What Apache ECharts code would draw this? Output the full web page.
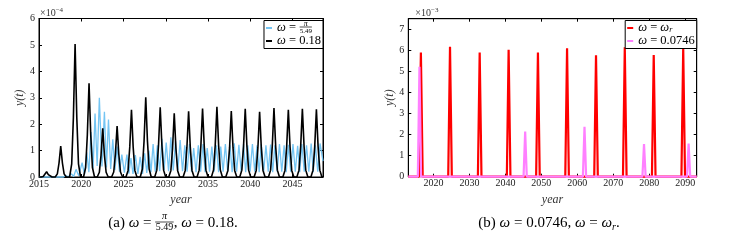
<!DOCTYPE html>
<html><head><meta charset="utf-8">
<script src="https://cdn.jsdelivr.net/npm/echarts@6/dist/echarts.min.js"></script>
<style>html,body{margin:0;padding:0;background:#fff}#c{width:731px;height:247px}</style>
</head><body><div id="c"></div>
<script>
// ---------- data ----------
const xTicksA = [2015, 2020, 2025, 2030, 2035, 2040, 2045];
const yTicksA = [0, 1, 2, 3, 4, 5, 6];
const xTicksB = [2020, 2030, 2040, 2050, 2060, 2070, 2080, 2090];
const yTicksB = [0, 1, 2, 3, 4, 5, 6, 7];

const namesA = ['ω = π/5.49', 'ω = 0.18'];
const namesB = ['ω = ω_r', 'ω = 0.0746'];

const blueA = [
[2015,0],[2017.9,0],[2018.2,0.05],[2018.45,0.01],[2018.85,0.12],[2019.1,0.02],[2019.38,0.29],[2019.7,0.05],
[2020.1,0.54],[2020.38,0.1],[2020.65,0.93],[2020.9,0.18],[2021.15,1.7],[2021.4,0.32],[2021.63,2.4],[2021.88,0.42],
[2022.14,3.0],[2022.45,0.4],[2022.74,2.47],[2022.98,0.36],[2023.22,2.18],[2023.48,0.3],[2023.73,1.43],[2023.98,0.26],
[2024.25,1.15],[2024.52,0.2],[2024.8,0.85],[2025.1,0.16],[2025.4,0.85],[2025.63,0.13],[2025.88,0.72],[2026.12,0.12],
[2026.4,0.83],[2026.7,0.12],[2026.97,0.76],[2027.25,0.12],[2027.5,0.9],[2027.75,0.15],[2028.0,1.0],[2028.25,0.18],
[2028.5,1.25],[2028.75,0.2],[2029.0,1.2],[2029.28,0.22],[2029.55,1.45],[2029.8,0.25],[2030.05,1.3],[2030.33,0.22],
[2030.6,1.5],[2030.88,0.25],[2031.15,1.35],[2031.42,0.22],[2031.7,1.4],[2031.98,0.22],[2032.25,1.2],[2032.52,0.2],
[2032.8,1.25],[2033.05,0.2],[2033.3,1.1],[2033.58,0.18],[2033.85,1.2],[2034.12,0.2],[2034.4,1.25],[2034.65,0.18],
[2034.9,1.1],[2035.18,0.2],[2035.45,1.15],[2035.72,0.2],[2036.0,1.2],[2036.25,0.18],[2036.5,1.15],[2036.78,0.2],
[2037.05,1.25],[2037.32,0.2],[2037.6,1.2],[2037.85,0.18],[2038.1,1.28],[2038.38,0.2],[2038.65,1.22],[2038.92,0.2],
[2039.2,1.25],[2039.45,0.18],[2039.7,1.2],[2039.98,0.2],[2040.25,1.25],[2040.52,0.2],[2040.8,1.2],[2041.05,0.18],
[2041.3,1.25],[2041.58,0.2],[2041.85,1.2],[2042.12,0.2],[2042.4,1.23],[2042.65,0.18],[2042.9,1.2],[2043.18,0.2],
[2043.45,1.25],[2043.72,0.2],[2044.0,1.2],[2044.25,0.18],[2044.5,1.22],[2044.78,0.2],[2045.05,1.25],[2045.32,0.2],
[2045.6,1.18],[2045.85,0.18],[2046.1,1.25],[2046.38,0.2],[2046.65,1.2],[2046.92,0.2],[2047.2,1.27],[2047.45,0.18],
[2047.7,1.2],[2047.98,0.2],[2048.25,1.27],[2048.6,0.6]
];

const blackA = [
[2015,0],
[2015.25,0],[2015.5,0.02],[2015.7,0.09],[2015.9,0.2],[2016.1,0.09],[2016.3,0.02],[2016.55,0],
[2016.92,0],[2017.17,0.12],[2017.37,0.53],[2017.57,1.17],[2017.77,0.53],[2017.97,0.12],[2018.22,0],
[2018.62,0],[2018.87,0.5],[2019.07,2.26],[2019.27,5.03],[2019.47,2.26],[2019.67,0.5],[2019.92,0],
[2020.27,0],[2020.52,0.36],[2020.72,1.6],[2020.92,3.55],[2021.12,1.6],[2021.32,0.36],[2021.57,0],
[2021.89,0],[2022.14,0.18],[2022.34,0.83],[2022.54,1.84],[2022.74,0.83],[2022.94,0.18],[2023.19,0],
[2023.59,0],[2023.84,0.19],[2024.04,0.87],[2024.24,1.93],[2024.44,0.87],[2024.64,0.19],[2024.89,0],
[2025.29,0],[2025.54,0.25],[2025.74,1.14],[2025.94,2.54],[2026.14,1.14],[2026.34,0.25],[2026.59,0],
[2026.98,0],[2027.23,0.3],[2027.43,1.36],[2027.63,3.02],[2027.83,1.36],[2028.03,0.3],[2028.28,0],
[2028.69,0],[2028.94,0.26],[2029.14,1.19],[2029.34,2.64],[2029.54,1.19],[2029.74,0.26],[2029.99,0],
[2030.35,0],[2030.6,0.24],[2030.8,1.08],[2031.0,2.41],[2031.2,1.08],[2031.4,0.24],[2031.65,0],
[2032.05,0],[2032.3,0.25],[2032.5,1.12],[2032.7,2.49],[2032.9,1.12],[2033.1,0.25],[2033.35,0],
[2033.7,0],[2033.95,0.26],[2034.15,1.17],[2034.35,2.59],[2034.55,1.17],[2034.75,0.26],[2035.0,0],
[2035.4,0],[2035.65,0.27],[2035.85,1.2],[2036.05,2.66],[2036.25,1.2],[2036.45,0.27],[2036.7,0],
[2037.1,0],[2037.35,0.25],[2037.55,1.12],[2037.75,2.5],[2037.95,1.12],[2038.15,0.25],[2038.4,0],
[2038.75,0],[2039.0,0.26],[2039.2,1.16],[2039.4,2.58],[2039.6,1.16],[2039.8,0.26],[2040.05,0],
[2040.45,0],[2040.7,0.25],[2040.9,1.11],[2041.1,2.47],[2041.3,1.11],[2041.5,0.25],[2041.75,0],
[2042.15,0],[2042.4,0.26],[2042.6,1.17],[2042.8,2.61],[2043.0,1.17],[2043.2,0.26],[2043.45,0],
[2043.85,0],[2044.1,0.25],[2044.3,1.14],[2044.5,2.54],[2044.7,1.14],[2044.9,0.25],[2045.15,0],
[2045.51,0],[2045.76,0.26],[2045.96,1.16],[2046.16,2.58],[2046.36,1.16],[2046.56,0.26],[2046.81,0],
[2047.17,0],[2047.42,0.26],[2047.62,1.15],[2047.82,2.56],[2048.02,1.15],[2048.22,0.26],[2048.47,0],
[2048.6,0]
];

const redB = [
[2013,0],[2016.0,0],[2016.5,5.9],[2017.0,0],[2024.1,0],[2024.6,6.17],[2025.1,0],
[2032.35,0],[2032.85,5.9],[2033.35,0],[2040.4,0],[2040.9,6.02],[2041.4,0],
[2048.55,0],[2049.05,5.9],[2049.55,0],[2056.65,0],[2057.15,6.1],[2057.65,0],
[2064.7,0],[2065.2,5.76],[2065.7,0],[2072.7,0],[2073.2,6.14],[2073.7,0],
[2080.75,0],[2081.25,5.78],[2081.75,0],[2088.95,0],[2089.45,6.1],[2089.95,0],[2093.2,0]
];

const pinkB = [
[2013,0],[2015.65,0],[2016.1,5.22],[2016.55,0],[2045.05,0],[2045.5,2.14],[2045.95,0],
[2057.7,0],[2058.0,0.06],[2058.3,0],[2061.55,0],[2062.0,2.37],[2062.45,0],
[2078.1,0],[2078.55,1.55],[2079.0,0],[2086.9,0],[2087.2,0.05],[2087.5,0],
[2090.5,0],[2090.95,1.57],[2091.4,0],[2093.2,0]
];

// ---------- layout ----------
const SERIF = '"Liberation Serif", "DejaVu Serif", serif';
const A = {left: 39, top: 18.5, right: 323, bottom: 177, xmin: 2015, xmax: 2048.6, ymax: 6};
const B = {left: 408.3, top: 18.7, right: 696.7, bottom: 176.7, xmin: 2013, xmax: 2093.2, ymax: 7.5};

const ctx = document.createElement('canvas').getContext('2d');
function m(t, size, italic) {
  ctx.font = (italic ? 'italic ' : '') + size + 'px ' + SERIF;
  return ctx.measureText(t).width;
}

const LFS = 12.5;         // legend font size
const LPAD = 2, LIW = 6;  // legend padding / item width
const fracLW = m('5.49', 7) + 1;
const legA1W = m('ω', LFS, true) + m(' = ', LFS) + fracLW;
const legA2W = m('ω', LFS, true) + m(' = 0.18', LFS);
const legAW = Math.max(legA1W, legA2W);
const legALeft = A.right - (LPAD + LIW + 5 + legAW + LPAD);
const legB1W = m('ω', LFS, true) + m(' = ', LFS) + m('ω', LFS, true) + m('r', 8, true);
const legB2W = m('ω', LFS, true) + m(' = 0.0746', LFS);
const legBW = Math.max(legB1W, legB2W);
const legBLeft = B.right - (LPAD + LIW + 5 + legBW + LPAD);
const legTop = 20.5;
const LH = 11;

function xAxis(gi, P, pos, ticks, labels) {
  return {
    type: 'value', gridIndex: gi, position: pos, min: P.xmin, max: P.xmax,
    axisLine: {show: true, onZero: false, lineStyle: {color: '#000', width: 1}},
    axisTick: {show: true, inside: true, length: 3, customValues: ticks, lineStyle: {color: '#000', width: 1}},
    axisLabel: {show: labels, customValues: ticks, margin: 2, fontSize: 10, color: '#222', fontFamily: SERIF,
                formatter: v => String(v)},
    splitLine: {show: false},
    name: labels ? 'year' : '', nameLocation: 'middle', nameGap: 8,
    nameTextStyle: {fontFamily: SERIF, fontStyle: 'italic', fontSize: 12, color: '#333'}
  };
}
function yAxis(gi, P, pos, ticks, labels) {
  return {
    type: 'value', gridIndex: gi, position: pos, min: 0, max: P.ymax,
    axisLine: {show: true, onZero: false, lineStyle: {color: '#000', width: 1}},
    axisTick: {show: true, inside: true, length: 3, customValues: ticks, lineStyle: {color: '#000', width: 1}},
    axisLabel: {show: labels, customValues: ticks, margin: 4, fontSize: 10, color: '#222', fontFamily: SERIF,
                formatter: v => String(v)},
    splitLine: {show: false},
    name: labels ? 'y(t)' : '', nameLocation: 'middle', nameGap: 9,
    nameTextStyle: {fontFamily: SERIF, fontStyle: 'italic', fontSize: 12, color: '#333'}
  };
}

const richLeg = {
  w: {fontFamily: SERIF, fontStyle: 'italic', fontSize: LFS, lineHeight: LH, color: '#000'},
  g: {width: fracLW, lineHeight: LH},
  s: {fontFamily: SERIF, fontStyle: 'italic', fontSize: 8, lineHeight: 8, verticalAlign: 'bottom', color: '#000'}
};
function legend(left, names, fmt) {
  return {
    data: names, orient: 'vertical', left: left, top: legTop,
    padding: [1, LPAD, 1, LPAD], itemGap: 0, itemWidth: LIW, itemHeight: 2, icon: 'rect',
    backgroundColor: '#fff', borderColor: '#000', borderWidth: 1, borderRadius: 0,
    selectedMode: false,
    textStyle: {fontFamily: SERIF, fontSize: LFS, lineHeight: LH, color: '#000', rich: richLeg},
    formatter: fmt
  };
}

function fraction(cx, cy, fsTop, fsBot, dy, w) {
  return [
    {type: 'text', x: cx, y: cy - dy, z: 100,
     style: {text: 'π', fontFamily: SERIF, fontStyle: 'italic', fontSize: fsTop, fill: '#000', align: 'center', verticalAlign: 'middle'}},
    {type: 'line', z: 100, shape: {x1: cx - w / 2, y1: cy, x2: cx + w / 2, y2: cy}, style: {stroke: '#000', lineWidth: 0.7}},
    {type: 'text', x: cx, y: cy + dy + 0.5, z: 100,
     style: {text: '5.49', fontFamily: SERIF, fontSize: fsBot, fill: '#000', align: 'center', verticalAlign: 'middle'}}
  ];
}

// caption (a)
const CFS = 15, capY = 223;
const capRich = {
  i: {fontFamily: SERIF, fontStyle: 'italic', fontSize: CFS, lineHeight: 19, fill: '#000'},
  n: {fontFamily: SERIF, fontSize: CFS, lineHeight: 19, fill: '#000'},
  s: {fontFamily: SERIF, fontStyle: 'italic', fontSize: 10, lineHeight: 10, verticalAlign: 'bottom', fill: '#000'}
};
const capFW = m('5.49', 10) + 1;
const capW1 = m('(a) ', CFS) + m('ω', CFS, true) + m(' = ', CFS);
const capW2 = m(', ', CFS) + m('ω', CFS, true) + m(' = 0.18.', CFS);
const capX0 = 173 - (capW1 + capFW + capW2) / 2;

const graphics = [
  {type: 'text', x: A.left + 1, y: 13, z: 100,
   style: {text: '×10{s|−4}', fontFamily: SERIF, fontSize: 10, fill: '#333', align: 'left', verticalAlign: 'middle',
           rich: {s: {fontFamily: SERIF, fontSize: 7, verticalAlign: 'top', lineHeight: 12, fill: '#333'}}}},
  {type: 'text', x: B.left + 7, y: 13, z: 100,
   style: {text: '×10{s|−3}', fontFamily: SERIF, fontSize: 10, fill: '#333', align: 'left', verticalAlign: 'middle',
           rich: {s: {fontFamily: SERIF, fontSize: 7, verticalAlign: 'top', lineHeight: 12, fill: '#333'}}}},
  // legend (a) fraction
  ...fraction(legALeft + LPAD + LIW + 5 + m('ω', LFS, true) + m(' = ', LFS) + fracLW / 2,
              legTop + 1 + LH / 2, 8, 7, 3.6, fracLW - 1),
  // caption (a)
  {type: 'text', x: capX0, y: capY, z: 100,
   style: {text: '{n|(a) }{i|ω}{n| = }', rich: capRich, align: 'left', verticalAlign: 'middle'}},
  ...fraction(capX0 + capW1 + capFW / 2, capY - 1, 10, 10, 5.2, capFW),
  {type: 'text', x: capX0 + capW1 + capFW, y: capY, z: 100,
   style: {text: '{n|, }{i|ω}{n| = 0.18.}', rich: capRich, align: 'left', verticalAlign: 'middle'}},
  // caption (b)
  {type: 'text', x: 549, y: capY, z: 100,
   style: {text: '{n|(b) }{i|ω}{n| = 0.0746, }{i|ω}{n| = }{i|ω}{s|r}{n|.}', rich: capRich, align: 'center', verticalAlign: 'middle'}}
];

const chart = echarts.init(document.getElementById('c'), null, {renderer: 'canvas'});
chart.setOption({
  animation: false,
  backgroundColor: '#fff',
  grid: [
    {left: A.left, top: A.top, width: A.right - A.left, height: A.bottom - A.top, show: true, borderColor: '#000', borderWidth: 1, backgroundColor: 'transparent'},
    {left: B.left, top: B.top, width: B.right - B.left, height: B.bottom - B.top, show: true, borderColor: '#000', borderWidth: 1, backgroundColor: 'transparent'}
  ],
  xAxis: [xAxis(0, A, 'bottom', xTicksA, true), xAxis(0, A, 'top', xTicksA, false),
          xAxis(1, B, 'bottom', xTicksB, true), xAxis(1, B, 'top', xTicksB, false)],
  yAxis: [yAxis(0, A, 'left', yTicksA, true), yAxis(0, A, 'right', yTicksA, false),
          yAxis(1, B, 'left', yTicksB, true), yAxis(1, B, 'right', yTicksB, false)],
  legend: [
    legend(legALeft, namesA, n => n === namesA[0] ? '{w|ω} = {g| }' : '{w|ω} = 0.18'),
    legend(legBLeft, namesB, n => n === namesB[0] ? '{w|ω} = {w|ω}{s|r}' : '{w|ω} = 0.0746')
  ],
  series: [
    {name: namesA[0], type: 'line', xAxisIndex: 0, yAxisIndex: 0, data: blueA, symbol: 'none', clip: false,
     lineStyle: {color: '#74c5f3', width: 1.3}, itemStyle: {color: '#74c5f3'}},
    {name: namesA[1], type: 'line', xAxisIndex: 0, yAxisIndex: 0, data: blackA, symbol: 'none', clip: false,
     lineStyle: {color: '#000', width: 1.6}, itemStyle: {color: '#000'}},
    {name: namesB[0], type: 'line', xAxisIndex: 2, yAxisIndex: 2, data: redB, symbol: 'none', clip: false,
     lineStyle: {color: '#ff0000', width: 2.2}, itemStyle: {color: '#ff0000'}},
    {name: namesB[1], type: 'line', xAxisIndex: 2, yAxisIndex: 2, data: pinkB, symbol: 'none', clip: false,
     lineStyle: {color: '#ff80ff', width: 2.2}, itemStyle: {color: '#ff80ff'}}
  ],
  graphic: graphics
});
</script>
</body></html>
